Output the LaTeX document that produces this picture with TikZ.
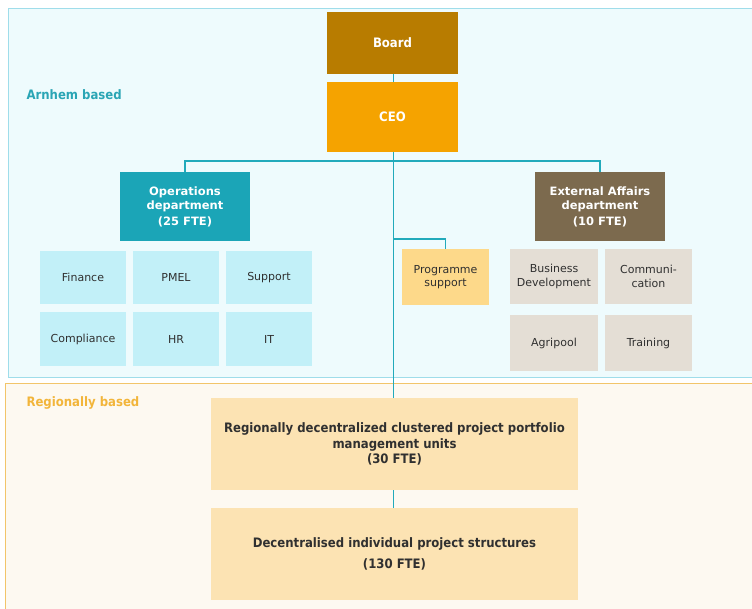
\documentclass[tikz,border=0pt]{standalone}
\usepackage{fontspec}
\setmainfont{DejaVu Sans}
\newfontfamily\condf{DejaVu Sans Condensed}
\definecolor{pAfill}{HTML}{EEFBFD}
\definecolor{pAline}{HTML}{9FDDEA}
\definecolor{pBfill}{HTML}{FDF9F1}
\definecolor{pBline}{HTML}{F2C56A}
\definecolor{boardc}{HTML}{B87C00}
\definecolor{ceoc}{HTML}{F5A300}
\definecolor{opsc}{HTML}{1BA5B7}
\definecolor{extc}{HTML}{7C6A4E}
\definecolor{opssub}{HTML}{C2F0F8}
\definecolor{progc}{HTML}{FDD98A}
\definecolor{extsub}{HTML}{E4DED5}
\definecolor{regc}{HTML}{FCE3B3}
\definecolor{linec}{HTML}{22AABB}
\definecolor{lblA}{HTML}{2AA5B5}
\definecolor{lblB}{HTML}{F2B53A}
\definecolor{txt}{HTML}{303030}
\tikzset{
  box/.style={draw=none, inner sep=2pt, align=center},
  topbox/.style={box, text=white, font=\condf\bfseries\fontsize{13}{15}\selectfont},
  dept/.style={box, text=white, font=\bfseries\fontsize{11.5}{14}\selectfont, minimum width=130pt, minimum height=69pt},
  subbox/.style={box, text=txt, font=\fontsize{11}{13.5}\selectfont},
  opsbox/.style={subbox, fill=opssub, minimum width=86pt},
  extbox/.style={subbox, fill=extsub},
  regbox/.style={box, fill=regc, text=txt, font=\condf\bfseries\fontsize{13}{15.5}\selectfont, minimum width=367pt, minimum height=92pt},
  conn/.style={draw=linec, line width=1.5pt},
  panellbl/.style={anchor=west, font=\condf\bfseries\fontsize{13}{15}\selectfont}
}
\begin{document}
\begin{tikzpicture}[x=1pt,y=-1pt]
\useasboundingbox (0,0) rectangle (752,608);
\begin{scope}
\clip (0,0) rectangle (752,608);
\draw[fill=pAfill, draw=pAline, line width=1pt] (8,8) rectangle (770,377);
\draw[fill=pBfill, draw=pBline, line width=1pt] (5,383) rectangle (770,620);
\end{scope}
\node[panellbl, text=lblA] (lA) at (23,95) {Arnhem based};
\node[panellbl, text=lblB] (lB) at (23,403) {Regionally based};
% top
\node[topbox, fill=boardc, minimum width=131pt, minimum height=62pt] (board) at (392.5,43) {Board};
\node[topbox, fill=ceoc, minimum width=131pt, minimum height=70pt] (ceo) at (392.5,117) {CEO};
% departments
\node[dept, fill=opsc] (ops) at (185,206.5) {Operations\\department\\[2pt](25 FTE)};
\node[dept, fill=extc] (ext) at (600,206.5) {External Affairs\\department\\[2pt](10 FTE)};
% ops sub
\node[opsbox, minimum height=53pt] (fin) at (83,277.5) {Finance};
\node[opsbox, minimum height=53pt] (pmel) at (176,277.5) {PMEL};
\node[opsbox, minimum height=53pt] (sup) at (269,277.5) {Support};
\node[opsbox, minimum height=54pt] (comp) at (83,339) {Compliance};
\node[opsbox, minimum height=54pt] (hr) at (176,339) {HR};
\node[opsbox, minimum height=54pt] (it) at (269,339) {IT};
% programme support
\node[subbox, fill=progc, minimum width=87pt, minimum height=56pt] (prog) at (445.5,277) {Programme\\support};
% ext sub
\node[extbox, minimum width=88pt, minimum height=55pt] (bd) at (554,276.5) {Business\\Development};
\node[extbox, minimum width=87pt, minimum height=55pt] (com) at (648.5,276.5) {Communi-\\cation};
\node[extbox, minimum width=88pt, minimum height=56pt] (agri) at (554,343) {Agripool};
\node[extbox, minimum width=87pt, minimum height=56pt] (train) at (648.5,343) {Training};
% regional
\node[regbox] (r1) at (394.5,444) {Regionally decentralized clustered project portfolio\\management units\\(30 FTE)};
\node[regbox] (r2) at (394.5,554) {Decentralised individual project structures\\[5pt](130 FTE)};
% connectors
\coordinate (hub) at (393.5,161);
\coordinate (pj) at (393.5,239);
\draw[conn, line width=1pt] (board.south -| hub) -- (ceo.north -| hub);
\draw[conn] (ceo.south -| hub) -- (hub);
\draw[conn] (ops.north) -- (ops.north |- hub) -- (ext.north |- hub) -- (ext.north);
\draw[conn] (hub) -- (r1.north -| hub);
\draw[conn] (pj) -- (pj -| prog.north) -- (prog.north);
\draw[conn] (r1.south -| hub) -- (r2.north -| hub);
\end{tikzpicture}
\end{document}
